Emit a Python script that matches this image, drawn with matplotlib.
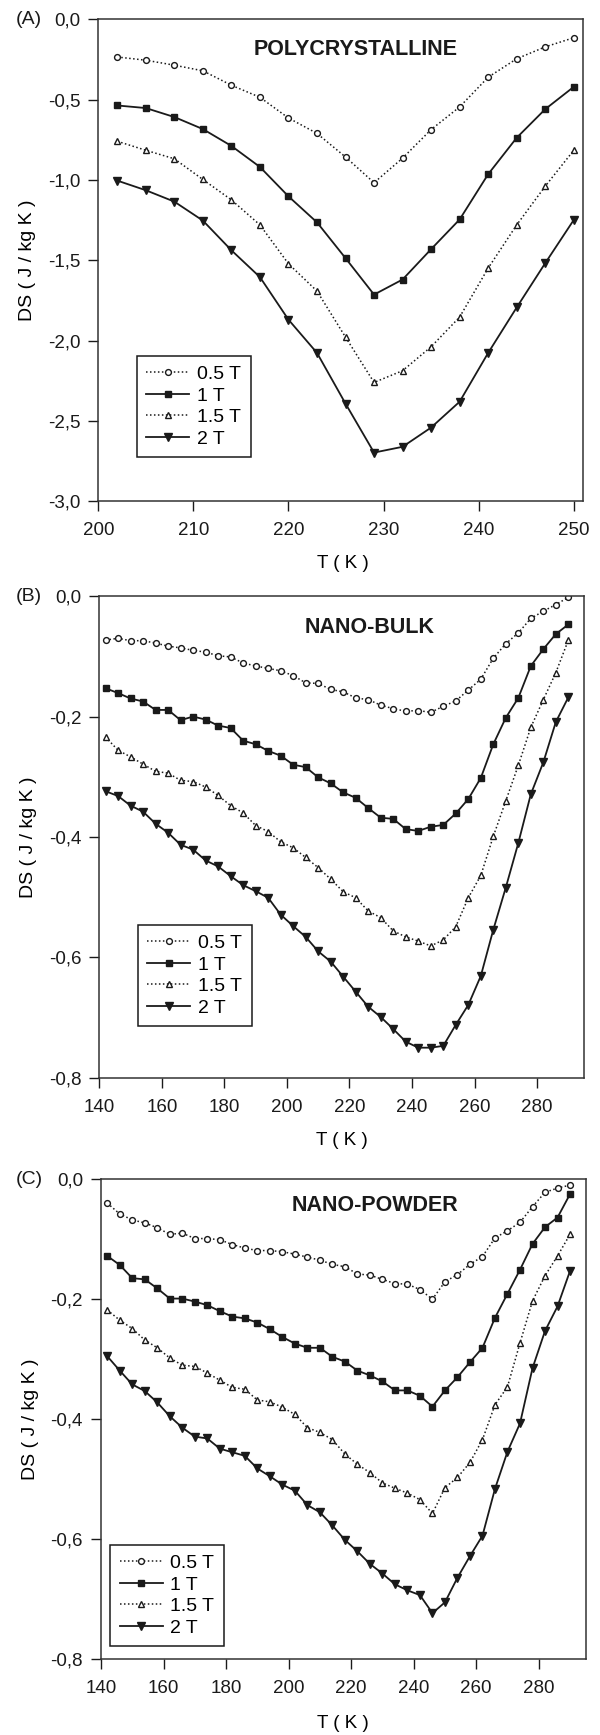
import matplotlib
matplotlib.use('Agg')
import matplotlib.pyplot as plt

plt.rcParams['font.family'] = ['Liberation Sans', 'DejaVu Sans']

# Panel A : polycristallin
T_A = [202, 205, 208, 211, 214, 217, 220, 223, 226, 229, 232, 235, 238, 241, 244, 247, 250]
A_05 = [-0.234, -0.254, -0.285, -0.32, -0.41, -0.485, -0.614, -0.71, -0.857, -1.017,
        -0.864, -0.686, -0.545, -0.36, -0.245, -0.171, -0.114]
A_1 = [-0.536, -0.552, -0.608, -0.683, -0.788, -0.919, -1.102, -1.264, -1.487, -1.714,
       -1.62, -1.431, -1.246, -0.964, -0.737, -0.559, -0.42]
A_15 = [-0.759, -0.815, -0.868, -0.997, -1.124, -1.28, -1.522, -1.692, -1.979, -2.261,
        -2.188, -2.039, -1.854, -1.549, -1.28, -1.039, -0.815]
A_2 = [-1.004, -1.064, -1.135, -1.253, -1.438, -1.605, -1.87, -2.077, -2.393, -2.698,
       -2.662, -2.542, -2.381, -2.077, -1.794, -1.518, -1.249]

# Panels B et C : même grille de températures
T_BC = [142, 146, 150, 154, 158, 162, 166, 170, 174, 178, 182, 186, 190, 194, 198, 202,
        206, 210, 214, 218, 222, 226, 230, 234, 238, 242, 246, 250, 254, 258, 262, 266,
        270, 274, 278, 282, 286, 290]

B_05 = [-0.073, -0.070, -0.074, -0.074, -0.078, -0.083, -0.086, -0.090, -0.093, -0.099,
        -0.101, -0.111, -0.116, -0.120, -0.124, -0.132, -0.144, -0.145, -0.155, -0.159,
        -0.169, -0.172, -0.181, -0.187, -0.191, -0.190, -0.193, -0.183, -0.174, -0.156,
        -0.138, -0.103, -0.079, -0.061, -0.037, -0.025, -0.014, -0.002]
B_1 = [-0.153, -0.161, -0.170, -0.175, -0.189, -0.189, -0.206, -0.200, -0.205, -0.215,
       -0.219, -0.240, -0.246, -0.257, -0.265, -0.280, -0.284, -0.301, -0.311, -0.326,
       -0.335, -0.352, -0.368, -0.370, -0.387, -0.390, -0.383, -0.380, -0.361, -0.337,
       -0.302, -0.246, -0.202, -0.169, -0.116, -0.088, -0.063, -0.047]
B_15 = [-0.234, -0.256, -0.267, -0.279, -0.291, -0.294, -0.306, -0.308, -0.317, -0.331,
        -0.348, -0.360, -0.381, -0.391, -0.408, -0.418, -0.434, -0.451, -0.470, -0.491,
        -0.501, -0.523, -0.534, -0.556, -0.566, -0.573, -0.581, -0.571, -0.549, -0.501,
        -0.464, -0.399, -0.340, -0.281, -0.218, -0.172, -0.127, -0.073]
B_2 = [-0.324, -0.332, -0.348, -0.358, -0.378, -0.393, -0.413, -0.421, -0.439, -0.449,
       -0.465, -0.480, -0.490, -0.501, -0.529, -0.548, -0.566, -0.590, -0.607, -0.632,
       -0.657, -0.682, -0.699, -0.719, -0.740, -0.750, -0.750, -0.747, -0.712, -0.679,
       -0.631, -0.554, -0.484, -0.410, -0.329, -0.276, -0.209, -0.168]

C_05 = [-0.040, -0.058, -0.068, -0.073, -0.081, -0.092, -0.090, -0.099, -0.099, -0.101,
        -0.109, -0.115, -0.119, -0.119, -0.121, -0.125, -0.130, -0.135, -0.142, -0.146,
        -0.158, -0.160, -0.167, -0.174, -0.175, -0.184, -0.200, -0.171, -0.159, -0.142,
        -0.129, -0.098, -0.086, -0.072, -0.046, -0.022, -0.015, -0.010]
C_1 = [-0.128, -0.143, -0.165, -0.167, -0.182, -0.199, -0.199, -0.204, -0.210, -0.220,
       -0.229, -0.232, -0.239, -0.250, -0.263, -0.274, -0.281, -0.281, -0.296, -0.304,
       -0.319, -0.327, -0.337, -0.352, -0.352, -0.361, -0.379, -0.352, -0.330, -0.305,
       -0.281, -0.231, -0.191, -0.151, -0.108, -0.080, -0.064, -0.025]
C_15 = [-0.218, -0.235, -0.249, -0.268, -0.281, -0.298, -0.310, -0.312, -0.323, -0.335,
        -0.347, -0.350, -0.368, -0.371, -0.380, -0.392, -0.414, -0.422, -0.434, -0.458,
        -0.475, -0.489, -0.506, -0.515, -0.523, -0.534, -0.557, -0.514, -0.497, -0.472,
        -0.434, -0.376, -0.346, -0.273, -0.203, -0.161, -0.128, -0.092]
C_2 = [-0.295, -0.319, -0.342, -0.353, -0.372, -0.395, -0.414, -0.429, -0.432, -0.449,
       -0.455, -0.461, -0.482, -0.495, -0.509, -0.519, -0.543, -0.555, -0.577, -0.601,
       -0.620, -0.641, -0.657, -0.675, -0.685, -0.693, -0.723, -0.705, -0.664, -0.628,
       -0.594, -0.516, -0.454, -0.407, -0.315, -0.253, -0.212, -0.153]

labels = ['0.5 T', '1 T', '1.5 T', '2 T']

ticks_A = [200, 210, 220, 230, 240, 250]
ticks_BC = [140, 160, 180, 200, 220, 240, 260, 280]
yticks_A = [0.0, -0.5, -1.0, -1.5, -2.0, -2.5, -3.0]
yticks_BC = [0.0, -0.2, -0.4, -0.6, -0.8]

INK = '#1a1a1a'
DOT = (0, (1, 1.6))
FS = 13.5
styles = [
    dict(ls=DOT, lw=1.1, marker='o', ms=4.2, mfc='white', mec=INK, mew=1.0),
    dict(ls='-', lw=1.3, marker='s', ms=4.5, mfc=INK, mec=INK),
    dict(ls=DOT, lw=1.1, marker='^', ms=4.8, mfc='white', mec=INK, mew=1.0),
    dict(ls='-', lw=1.3, marker='v', ms=5.2, mfc=INK, mec=INK),
]


def comma(v, nd):
    return f'{v:.{nd}f}'.replace('.', ',')


def panel(fig, rect, T, series, xlim, xticks, ylim, yticks, nd, title, title_xy,
          leg_xy, letter, letter_y, xlab_xy):
    ax = fig.add_axes(rect)
    for y, lab, st in zip(series, labels, styles):
        ax.plot(T, y, color=INK, label=lab, **st)
    ax.set_xlim(*xlim)
    ax.set_ylim(*ylim)
    ax.set_xticks(xticks)
    ax.set_xticklabels([str(t) for t in xticks])
    ax.set_yticks(yticks)
    ax.set_yticklabels([comma(v, nd) for v in yticks])
    ax.tick_params(direction='out', length=7, width=1, labelsize=FS, colors=INK)
    ax.tick_params(axis='x', pad=8)
    ax.tick_params(axis='y', pad=6)
    for sp in ax.spines.values():
        sp.set_linewidth(1.1)
        sp.set_color('#333333')
    ax.set_xlabel('T ( K )', fontsize=FS)
    ax.set_ylabel('DS ( J / kg K )', fontsize=14)
    ax.xaxis.set_label_coords(*xlab_xy)
    ax.yaxis.set_label_coords(-0.128, 0.5)
    ax.text(title_xy[0], title_xy[1], title, transform=ax.transAxes, ha='center',
            va='center', fontsize=15.5, fontweight='bold', color=INK)
    leg = ax.legend(loc='lower left', bbox_to_anchor=leg_xy, borderaxespad=0,
                    fontsize=14, handlelength=2.2, handletextpad=0.4,
                    labelspacing=0.2, borderpad=0.5, fancybox=False, framealpha=1,
                    edgecolor=INK)
    leg.get_frame().set_linewidth(1.1)
    fig.text(0.026, letter_y, letter, fontsize=14, va='center', ha='left', color=INK)
    return ax


fig = plt.figure(figsize=(6, 17.35), dpi=100)

panel(fig, [0.1638, 0.7112, 0.8083, 0.2776], T_A, [A_05, A_1, A_15, A_2],
      (200, 251), ticks_A, (-3.0, 0.0), yticks_A, 1, 'POLYCRYSTALLINE', (0.53, 0.938),
      (0.079, 0.091), '(A)', 1 - 20 / 1735, (0.505, -0.112))

panel(fig, [0.1655, 0.3788, 0.8078, 0.2776], T_BC, [B_05, B_1, B_15, B_2],
      (140, 295), ticks_BC, (-0.8, 0.0), yticks_BC, 1, 'NANO-BULK', (0.558, 0.934),
      (0.079, 0.107), '(B)', 1 - 596 / 1735, (0.5, -0.113))

panel(fig, [0.1683, 0.0436, 0.8078, 0.2768], T_BC, [C_05, C_1, C_15, C_2],
      (140, 295), ticks_BC, (-0.8, 0.0), yticks_BC, 1, 'NANO-POWDER', (0.566, 0.946),
      (0.019, 0.027), '(C)', 1 - 1179 / 1735, (0.5, -0.116))

fig.savefig('out.png', dpi=100)
